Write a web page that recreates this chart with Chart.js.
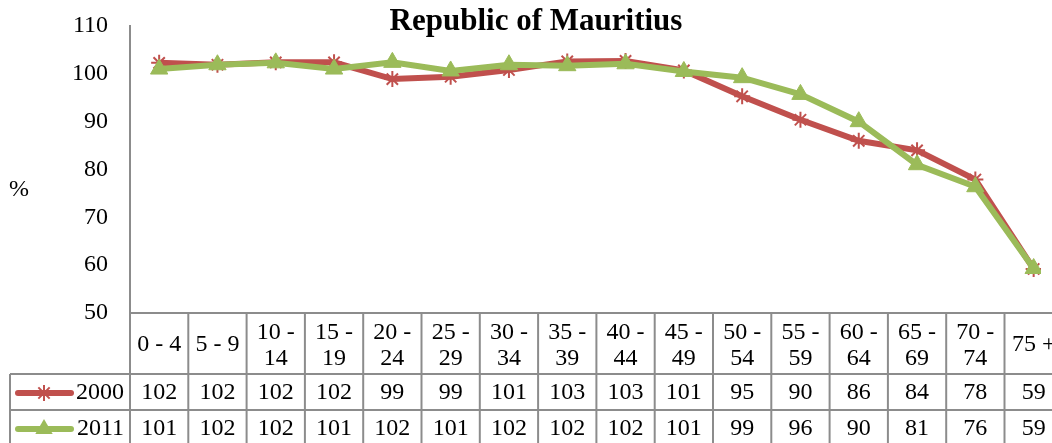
<!DOCTYPE html>
<html>
<head>
<meta charset="utf-8">
<script src="https://cdn.jsdelivr.net/npm/chart.js@4/dist/chart.umd.min.js"></script>
<style>
html,body{margin:0;padding:0;background:#fff;overflow:hidden;}
canvas{display:block;}
</style>
</head>
<body>
<canvas id="chart" width="1052" height="443"></canvas>
<script>
// age groups, split into the lines shown in the table header
const categories = [['0 - 4'],['5 - 9'],['10 -','14'],['15 -','19'],['20 -','24'],['25 -','29'],['30 -','34'],['35 -','39'],['40 -','44'],['45 -','49'],['50 -','54'],['55 -','59'],['60 -','64'],['65 -','69'],['70 -','74'],['75 +']];
const series2000 = [102.3,101.9,102.4,102.4,98.9,99.4,100.8,102.6,102.7,100.7,95.3,90.4,86.0,84.0,77.9,59.2];
const series2011 = [101.0,101.9,102.3,101.0,102.4,100.6,101.9,101.7,102.1,100.5,99.2,95.7,90.0,81.0,76.4,59.3];
const yMin = 50, yMax = 110, yStep = 10;

const RED = '#C0504D', GREEN = '#9BBB59', GRID = '#8c8c8c';
const FONT = '"Liberation Serif", "Times New Roman", serif';
// the original chart runs past the right edge of the picture: the last column is cut off
const AXIS_LEFT = 130, COL_W = 58.3;

function line(ctx,x1,y1,x2,y2){ctx.beginPath();ctx.moveTo(x1,y1);ctx.lineTo(x2,y2);ctx.stroke();}

function drawMarker(ctx, style, color, x, y){
  ctx.save();
  ctx.strokeStyle = color; ctx.fillStyle = color; ctx.lineWidth = 2;
  if(style==='star'){
    const r = 8;
    for(let a=0;a<4;a++){
      const t = a*Math.PI/4;
      line(ctx, x-Math.cos(t)*r, y-Math.sin(t)*r, x+Math.cos(t)*r, y+Math.sin(t)*r);
    }
  } else {
    const r = 10;
    ctx.beginPath();
    ctx.moveTo(x, y-r);
    ctx.lineTo(x+r*0.87, y+r*0.5);
    ctx.lineTo(x-r*0.87, y+r*0.5);
    ctx.closePath(); ctx.fill();
  }
  ctx.restore();
}

const rows = [
  {label:'2000', data:series2000, color:RED, marker:'star'},
  {label:'2011', data:series2011, color:GREEN, marker:'triangle'}
];

const tablePlugin = {
  id:'tablePlugin',
  afterDraw(chart){
    const ctx = chart.ctx, area = chart.chartArea, xs = chart.scales.x;
    const n = categories.length;
    const right = xs.getPixelForValue(n-0.5);
    const top = area.bottom, headBottom = top+61, rowH = 36;
    const bottom = headBottom + rowH*rows.length;
    ctx.save();
    ctx.strokeStyle = GRID; ctx.lineWidth = 2;
    line(ctx, area.left, top, right+2, top);
    for(let r=0;r<=rows.length;r++) line(ctx, 10, headBottom+r*rowH, right+2, headBottom+r*rowH);
    for(let i=0;i<=n;i++){ const x = xs.getPixelForValue(i-0.5); line(ctx, x, top, x, bottom); }
    line(ctx, 10, headBottom, 10, bottom);

    ctx.fillStyle = '#000';
    ctx.font = '24px ' + FONT;
    ctx.textAlign = 'center'; ctx.textBaseline = 'middle';
    const mid = (top+headBottom)/2+1;
    categories.forEach((lab,i)=>{
      const cx = xs.getPixelForValue(i);
      if(lab.length===1) ctx.fillText(lab[0], cx, mid);
      else { ctx.fillText(lab[0], cx, mid-12); ctx.fillText(lab[1], cx, mid+14); }
    });
    rows.forEach((row,r)=>{
      const cy = headBottom + r*rowH + rowH/2 + 1;
      ctx.textAlign = 'center';
      row.data.forEach((v,i)=> ctx.fillText(String(Math.round(v)), xs.getPixelForValue(i), cy));
      ctx.save();
      ctx.strokeStyle = row.color; ctx.lineWidth = 6; ctx.lineCap = 'round';
      line(ctx, 18, cy, 71, cy);
      ctx.restore();
      drawMarker(ctx, row.marker, row.color, 44, cy);
      ctx.textAlign = 'right';
      ctx.fillText(row.label, 124, cy);
    });

    // title and axis label
    ctx.textAlign = 'center'; ctx.textBaseline = 'alphabetic';
    ctx.font = 'bold 31px ' + FONT;
    ctx.fillText('Republic of Mauritius', 536, 30);
    ctx.font = '24px ' + FONT;
    ctx.fillText('%', 19, 196);
    ctx.restore();
  }
};

const toPoints = arr => arr.map((v,i)=>({x:i, y:v}));

const chart = new Chart(document.getElementById('chart'), {
  type:'line',
  data:{
    datasets:[
      {label:'2000', data:toPoints(series2000), borderColor:RED, backgroundColor:RED, borderWidth:6,
       pointStyle:'star', pointRadius:8, pointBorderWidth:2, pointBorderColor:RED, order:1, tension:0},
      {label:'2011', data:toPoints(series2011), borderColor:GREEN, backgroundColor:GREEN, borderWidth:6,
       pointStyle:'triangle', pointRadius:10, pointBorderWidth:1, pointBorderColor:GREEN, order:0, tension:0}
    ]
  },
  options:{
    responsive:false, animation:false,
    layout:{padding:{left:0, top:26, right:0, bottom:130}},
    plugins:{legend:{display:false}, tooltip:{enabled:false}, title:{display:false}},
    scales:{
      x:{type:'linear', display:false, min:-0.5, max:15.5,
         afterFit(scale){ scale.paddingLeft = 0; scale.paddingRight = 0; }},
      y:{
        min:yMin, max:yMax,
        grid:{display:false, drawTicks:false},
        border:{display:true, color:GRID, width:2},
        ticks:{stepSize:yStep, padding:22, color:'#000', font:{family:FONT, size:24, lineHeight:0.3}},
        afterFit(scale){ scale.width = AXIS_LEFT; }
      }
    }
  },
  plugins:[tablePlugin]
});

// columns keep the original width, so the x range follows the real plot area
const area = chart.chartArea;
chart.options.scales.x.max = -0.5 + (area.right - area.left) / COL_W;
chart.update();
</script>
</body>
</html>
